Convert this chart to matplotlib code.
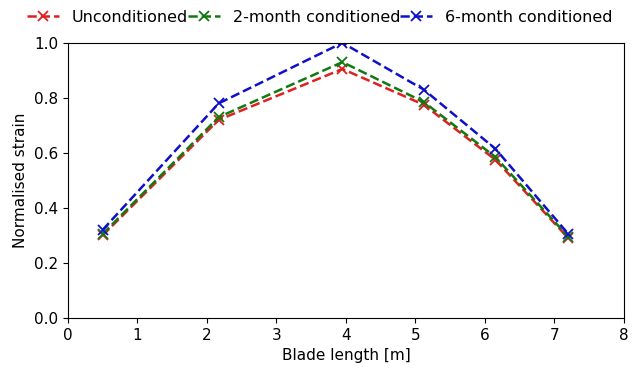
import matplotlib
matplotlib.use('Agg')
import matplotlib.pyplot as plt

# positions along the blade [m]
blade_pos = [0.5, 2.17, 3.95, 5.12, 6.15, 7.2]

# normalised strain per conditioning state
unconditioned = [0.30, 0.72, 0.905, 0.775, 0.575, 0.29]
month2 = [0.305, 0.73, 0.93, 0.785, 0.585, 0.295]
month6 = [0.32, 0.78, 1.0, 0.83, 0.615, 0.305]

labels = ['Unconditioned', '2-month conditioned', '6-month conditioned']
colors = ['#e02020', '#107a10', '#1010c8']

fig = plt.figure(figsize=(6.4, 3.79), dpi=100)
ax = fig.add_axes([0.106, 0.161, 0.869, 0.726])

for ys, lab, c in zip([unconditioned, month2, month6], labels, colors):
    ax.plot(blade_pos, ys, '--x', color=c, label=lab, lw=1.8, ms=7, mew=1.3)

ax.set_xlim(0, 8)
ax.set_ylim(0, 1.0)
ax.set_xlabel('Blade length [m]', fontsize=11)
ax.set_ylabel('Normalised strain', fontsize=11)
ax.tick_params(labelsize=11)

fig.legend(loc='upper center', bbox_to_anchor=(0.5, 0.983), ncol=3, frameon=False,
           fontsize=11.5, handlelength=2.0, handletextpad=0.8, columnspacing=0.0,
           borderaxespad=0.0, borderpad=0.2)

fig.savefig('out.png', dpi=100)
